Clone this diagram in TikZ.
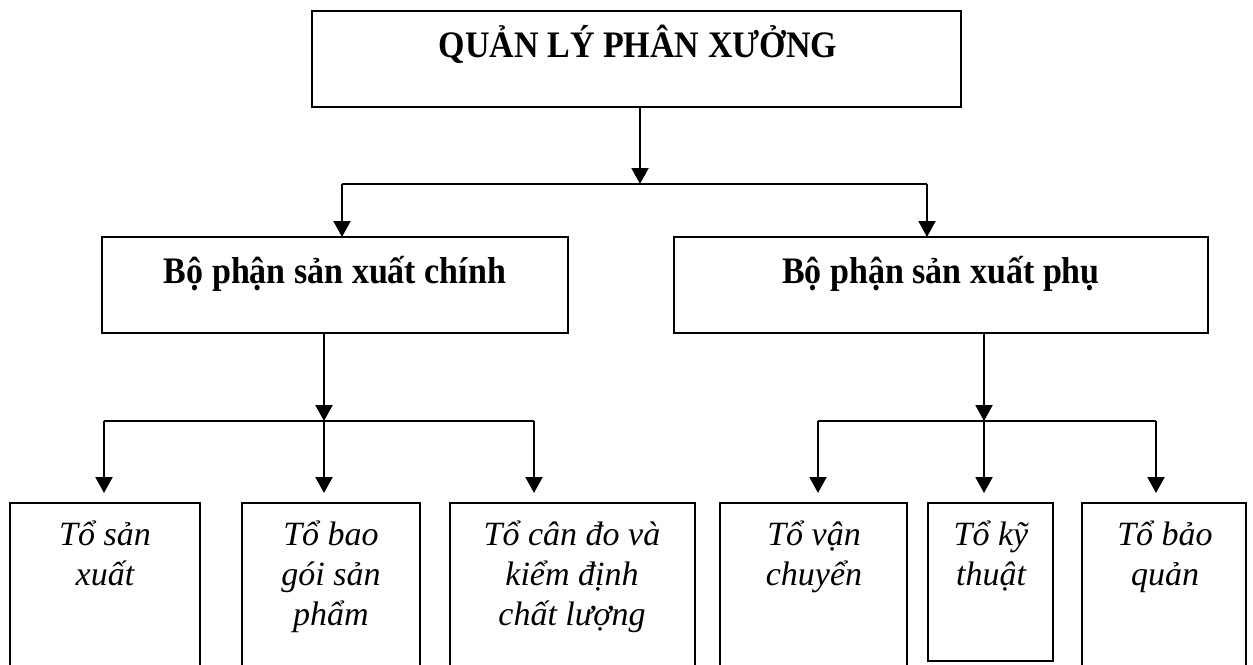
\documentclass[tikz,border=0pt]{standalone}
\usepackage{fontspec}
\usepackage{graphicx}
\setmainfont{Liberation Serif}
\usetikzlibrary{arrows.meta,calc}
% centred lines stacked at a fixed 40pt pitch, baseline on the first line
\newcommand\linestack[1]{\vtop{\baselineskip=40pt\lineskiplimit=-1000pt\lineskip=0pt\halign{\hfil##\hfil\cr#1\crcr}}}
% bold headings are set slightly tall
\newcommand\tallhead[1]{\scalebox{1}[1.1]{#1}}
\begin{document}
\begin{tikzpicture}[x=1pt,y=-1pt,
  box/.style={draw, line width=1.8pt, inner sep=0pt, outer sep=0pt, anchor=north west},
  conn/.style={line width=2.1pt},
  arr/.style={conn, -{Triangle[width=17pt,length=16pt]}},
  head/.style={font=\fontsize{34}{40}\selectfont\bfseries, inner sep=0pt, anchor=base},
  unit/.style={font=\fontsize{34}{40}\selectfont\itshape, inner sep=0pt, anchor=base},
]
\path[use as bounding box, clip] (0,0) rectangle (1253,664);
\fill[white] (0,0) rectangle (1253,664);

% top level
\node[box, minimum width=649pt, minimum height=96pt] (top) at (312,11) {};
\node[head] (toptxt) at (638,57) {\tallhead{QUẢN LÝ PHÂN XƯỞNG}};

% departments
\node[box, minimum width=466pt, minimum height=96pt] (main) at (102,237) {};
\node[head] (maintxt) at (335,283) {\tallhead{Bộ phận sản xuất chính}};
\node[box, minimum width=534pt, minimum height=96pt] (aux) at (674,237) {};
\node[head] (auxtxt) at (941,283) {\tallhead{Bộ phận sản xuất phụ}};

% teams
\node[box, minimum width=190pt, minimum height=170pt] (b1) at (10,503) {};
\node[unit] (t1) at (105,545) {\linestack{Tổ sản\cr xuất}};
\node[box, minimum width=178pt, minimum height=170pt] (b2) at (242,503) {};
\node[unit] (t2) at (331,545) {\linestack{Tổ bao\cr gói sản\cr phẩm}};
\node[box, minimum width=245pt, minimum height=170pt] (b3) at (450,503) {};
\node[unit] (t3) at (572,545) {\linestack{Tổ cân đo và\cr kiểm định\cr chất lượng}};
\node[box, minimum width=187pt, minimum height=170pt] (b4) at (720,503) {};
\node[unit] (t4) at (814,545) {\linestack{Tổ vận\cr chuyển}};
\node[box, minimum width=125pt, minimum height=158pt] (b5) at (928,503) {};
\node[unit] (t5) at (991,545) {\linestack{Tổ kỹ\cr thuật}};
\node[box, minimum width=164pt, minimum height=170pt] (b6) at (1082,503) {};
\node[unit] (t6) at (1165,545) {\linestack{Tổ bảo\cr quản}};

% junction points
\coordinate (hub) at (640,184);
\coordinate (hubL) at (342,184);
\coordinate (hubR) at (927,184);
\coordinate (mhub) at (324,421);
\coordinate (m1) at (104,421);
\coordinate (m3) at (534,421);
\coordinate (ahub) at (984,421);
\coordinate (a1) at (818,421);
\coordinate (a3) at (1156,421);

% connectors
\draw[arr] (top.south -| hub) -- (hub);
\draw[conn] (hubL) -- (hubR);
\draw[arr] (hubL) -- (hubL |- main.north);
\draw[arr] (hubR) -- (hubR |- aux.north);

\draw[arr] (main.south -| mhub) -- (mhub);
\draw[conn] (m1) -- (m3);
\draw[arr, shorten >=10pt] (m1) -- (m1 |- b1.north);
\draw[arr, shorten >=10pt] (mhub) -- (mhub |- b2.north);
\draw[arr, shorten >=10pt] (m3) -- (m3 |- b3.north);

\draw[arr] (aux.south -| ahub) -- (ahub);
\draw[conn] (a1) -- (a3);
\draw[arr, shorten >=10pt] (a1) -- (a1 |- b4.north);
\draw[arr, shorten >=10pt] (ahub) -- (ahub |- b5.north);
\draw[arr, shorten >=10pt] (a3) -- (a3 |- b6.north);
\end{tikzpicture}
\end{document}
